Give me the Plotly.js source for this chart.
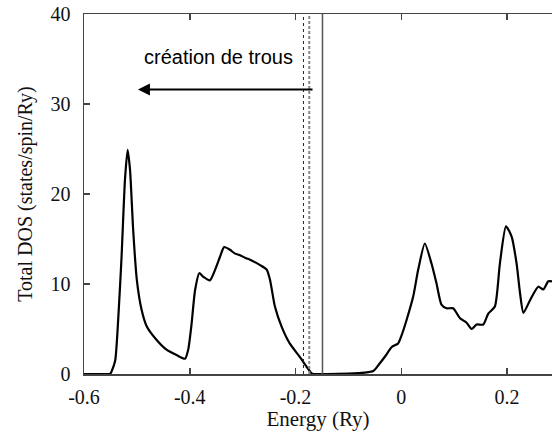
<!DOCTYPE html>
<html>
<head>
<meta charset="utf-8">
<script src="https://cdn.plot.ly/plotly-3.0.1.min.js"></script>
<style>html,body{margin:0;padding:0;background:#fff;}#chart{width:552px;height:433px;}</style>
</head>
<body>
<div id="chart"></div>
<script>
// Total DOS curve (Energy in Ry, DOS in states/spin/Ry)
var energy = [-0.600,-0.580,-0.560,-0.550,-0.548,-0.541,-0.535,-0.529,-0.5225,-0.5175,-0.513,-0.507,-0.500,-0.491,-0.4815,-0.463,-0.444,-0.425,-0.409,-0.403,-0.3965,-0.390,-0.382,-0.3745,-0.362,-0.352,-0.343,-0.335,-0.324,-0.315,-0.305,-0.295,-0.286,-0.276,-0.267,-0.2545,-0.248,-0.239,-0.2265,-0.211,-0.192,-0.179,-0.170,-0.166,-0.140,-0.100,-0.070,-0.053,-0.0405,-0.030,-0.018,-0.006,0.000,0.010,0.0225,0.032,0.0445,0.057,0.0665,0.076,0.0855,0.098,0.111,0.1235,0.133,0.1425,0.155,0.1645,0.177,0.1865,0.198,0.2085,0.218,0.2245,0.231,0.2435,0.259,0.2685,0.278,0.285];
var dos    = [0.0,0.0,0.0,0.05,0.26,1.5,6.4,13.0,21.6,24.9,22.7,16.0,10.4,7.1,5.3,3.8,2.7,2.1,1.7,2.7,5.6,9.3,11.2,10.8,10.4,11.6,13.0,14.1,13.8,13.4,13.2,12.9,12.7,12.4,12.1,11.6,10.4,7.5,5.3,3.4,1.9,0.8,0.1,0.0,0.0,0.05,0.15,0.33,1.2,2.0,3.0,3.4,4.2,6.0,8.6,11.6,14.5,12.3,10.1,7.7,7.3,7.3,6.2,5.7,5.0,5.5,5.5,6.7,7.5,12.3,16.4,15.3,12.3,9.0,6.8,8.2,9.7,9.4,10.3,10.3];

var xTickVals = [-0.6,-0.4,-0.2,0,0.2];
var xTickText = ["-0.6","-0.4","-0.2","0","0.2"];
var yTickVals = [0,10,20,30,40];
var yTickText = ["0","10","20","30","40"];

var lineDotted = -0.185;
var lineDashed = -0.174;
var lineSolid  = -0.149;

var arrowTail = [-0.165, 31.6];
var arrowHead = [-0.498, 31.6];
var labelPos  = [-0.345, 35.2];
var labelText = "création de trous";

var serif = {family: "Liberation Serif, Times New Roman, serif", size: 20, color: "#111"};

var trace = {
  x: energy, y: dos, type: "scatter", mode: "lines",
  line: {color: "#000", width: 2.2, shape: "spline", smoothing: 0.6},
  hoverinfo: "skip", showlegend: false
};

function vline(x, dash, color, width) {
  return {type: "line", xref: "x", yref: "y", x0: x, x1: x, y0: 0, y1: 40,
          line: {color: color, width: width, dash: dash}};
}

var layout = {
  width: 552, height: 433,
  margin: {l: 84, r: 0, t: 14, b: 59},
  paper_bgcolor: "#fff", plot_bgcolor: "#fff",
  showlegend: false,
  xaxis: {
    range: [-0.6, 0.285], tickmode: "array", tickvals: xTickVals, ticktext: xTickText,
    ticks: "inside", ticklen: 6, tickwidth: 1.5, tickcolor: "#444",
    showline: true, linecolor: "#444", linewidth: 1.5, mirror: "ticks",
    showgrid: false, zeroline: false, tickfont: serif, ticklabelstandoff: 4,
    title: {text: "Energy (Ry)", font: {family: serif.family, size: 21, color: "#111"}, standoff: 2}
  },
  yaxis: {
    range: [0, 40], tickmode: "array", tickvals: yTickVals, ticktext: yTickText,
    ticks: "inside", ticklen: 6, tickwidth: 1.5, tickcolor: "#444",
    showline: true, linecolor: "#444", linewidth: 1.5, mirror: false,
    showgrid: false, zeroline: false, tickfont: serif, ticklabelstandoff: 8,
    title: {text: "Total DOS (states/spin/Ry)", font: serif, standoff: 12}
  },
  shapes: [
    vline(lineDotted, "dot", "#222", 1),
    vline(lineDashed, "3px,2px", "#888", 2),
    vline(lineSolid, "solid", "#555", 1.5)
  ],
  annotations: [
    {x: arrowHead[0], y: arrowHead[1], ax: arrowTail[0], ay: arrowTail[1],
     xref: "x", yref: "y", axref: "x", ayref: "y", text: "", showarrow: true,
     arrowhead: 2, arrowsize: 1.2, arrowwidth: 2, arrowcolor: "#000"},
    {x: labelPos[0], y: labelPos[1], xref: "x", yref: "y", text: labelText, showarrow: false,
     font: {family: "Liberation Sans, Arial, sans-serif", size: 20, color: "#000"}}
  ]
};

Plotly.newPlot("chart", [trace], layout, {staticPlot: true, displayModeBar: false});
</script>
</body>
</html>
